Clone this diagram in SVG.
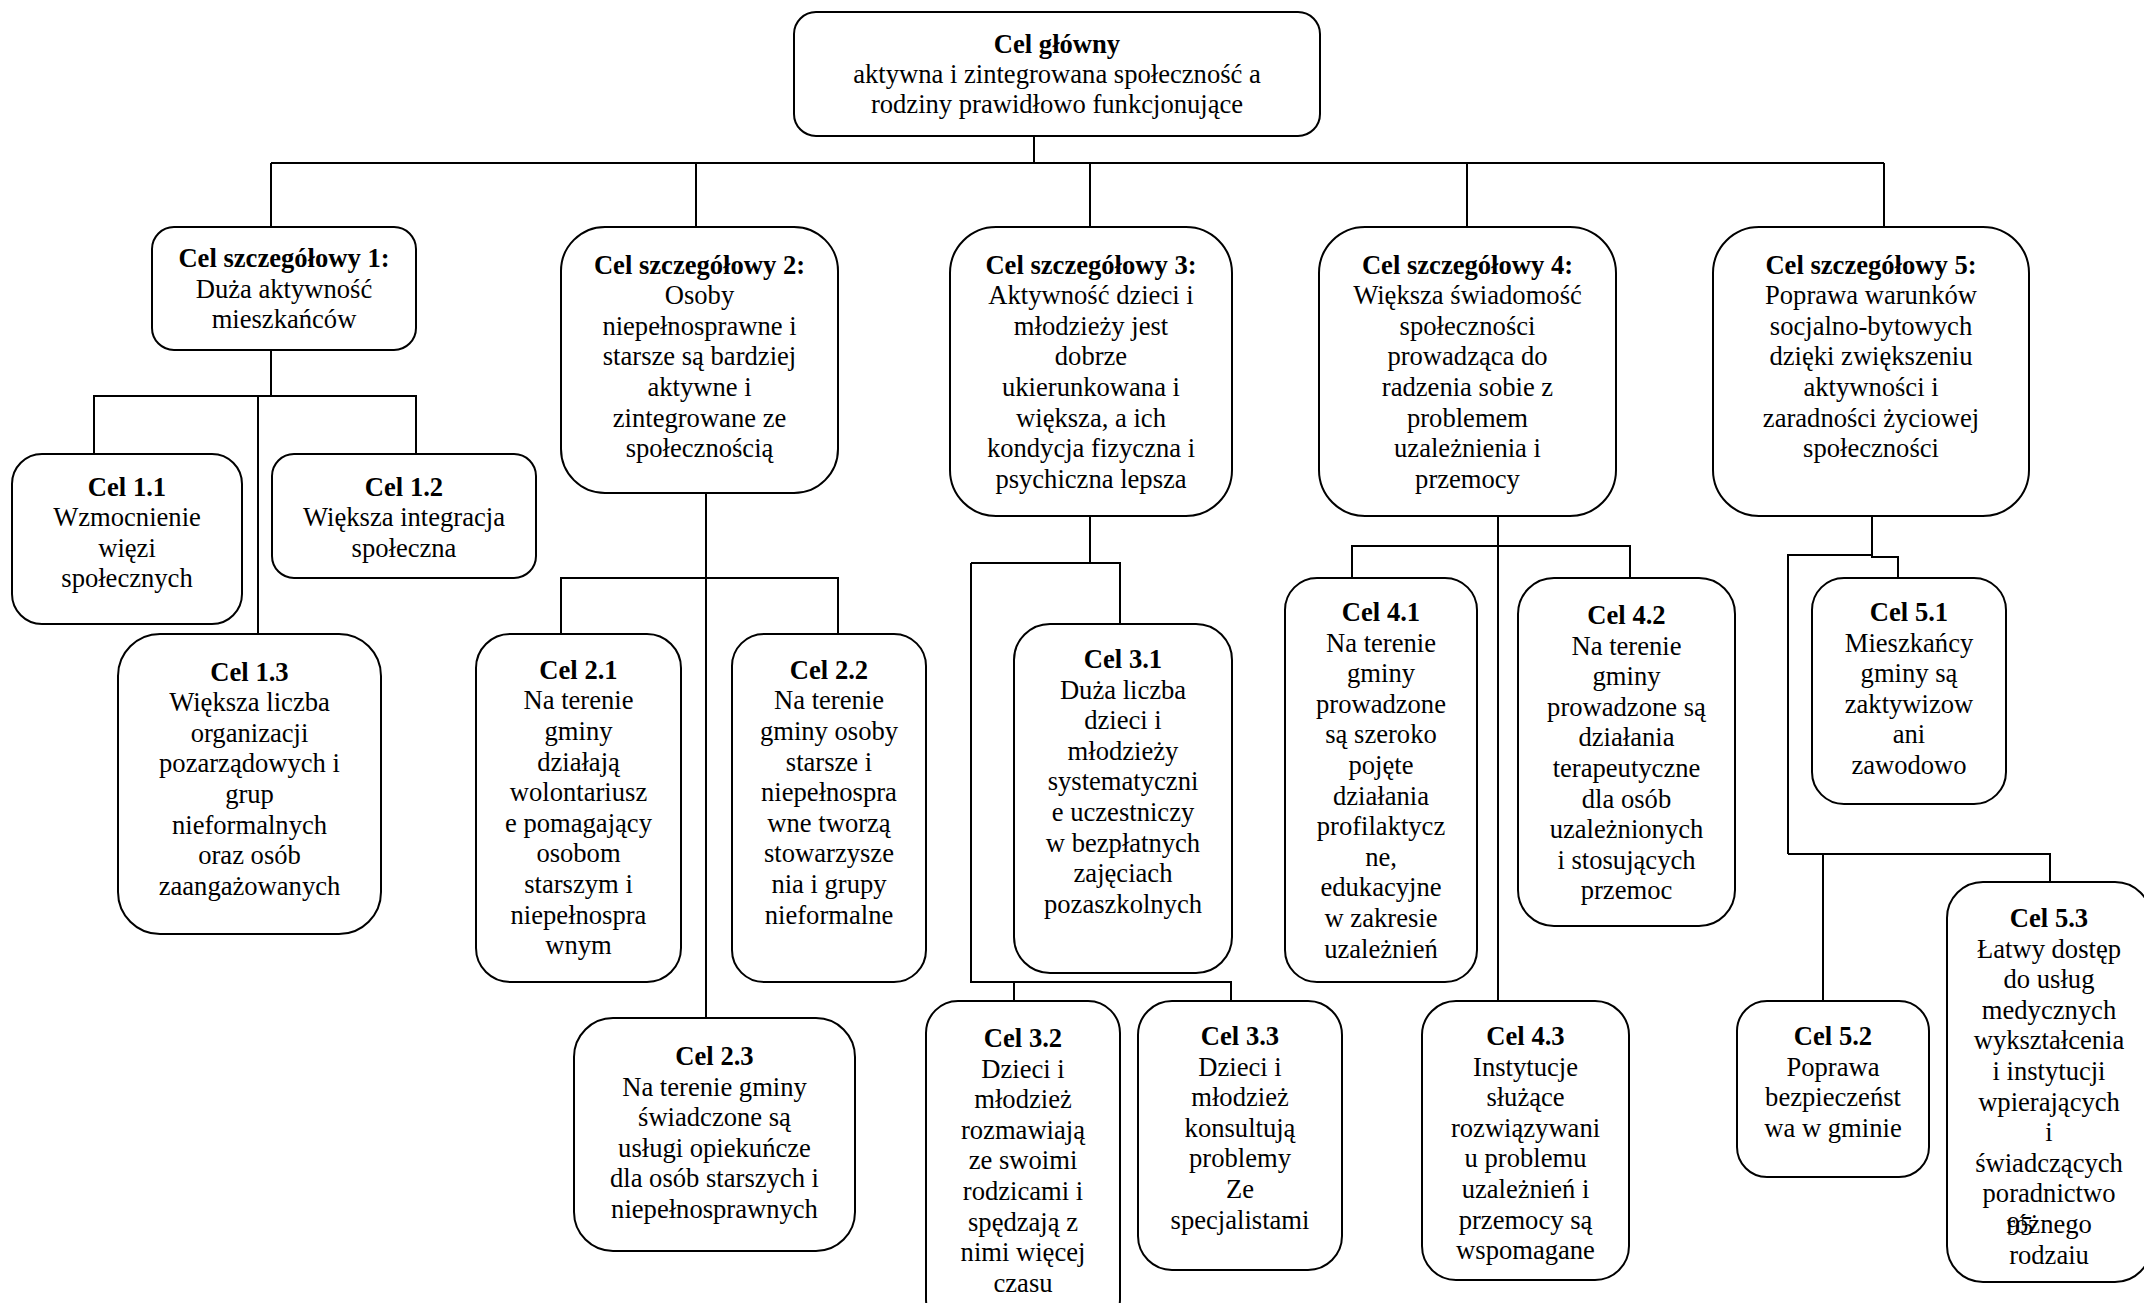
<svg xmlns="http://www.w3.org/2000/svg" width="2144" height="1303" viewBox="0 0 2144 1303">
<style>
.bg{fill:#ffffff}
.box{fill:#ffffff;stroke:#000000;stroke-width:2}
.ln{fill:none;stroke:#000000;stroke-width:2}
text{font-family:"Liberation Serif","Times New Roman",serif;font-size:26.6px;fill:#000000;text-anchor:middle}
.b{font-weight:bold}
</style>
<rect class="bg" x="0" y="0" width="2144" height="1303"/>
<g id="connectors">
<path class="ln" d="M1034,136 V163 M271,163 H1884 M271,163 V227 M696,163 V227 M1090,163 V227 M1467,163 V227 M1884,163 V227"/>
<path class="ln" d="M271,350 V396 M94,454 V396 H416 V454 M258,396 V634"/>
<path class="ln" d="M706,493 V1018 M561,634 V578 H838 V634"/>
<path class="ln" d="M1090,516 V563 M971,563 H1120 V624 M971,563 V982 H1231 V1001 M1014,982 V1001"/>
<path class="ln" d="M1498,516 V1001 M1352,578 V546 H1630 V578"/>
<path class="ln" d="M1872,516 V555 M1788,854 V555 H1872 V557 H1898 V578 M1788,854 H2050 V882 M1823,854 V1001"/>
</g>
<g id="main">
<rect class="box" x="794" y="12" width="526" height="124" rx="22"/>
<text x="1057" y="53"><tspan class="b">Cel główny</tspan><tspan x="1057" dy="30">aktywna i zintegrowana społeczność a</tspan><tspan x="1057" dy="30">rodziny prawidłowo funkcjonujące</tspan></text>
</g>
<g id="s1">
<rect class="box" x="152" y="227" width="264" height="123" rx="22"/>
<text x="284" y="267"><tspan class="b">Cel szczegółowy 1:</tspan><tspan x="284" dy="30.6">Duża aktywność</tspan><tspan x="284" dy="30.6">mieszkańców</tspan></text>
</g>
<g id="s2">
<rect class="box" x="561" y="227" width="277" height="266" rx="44"/>
<text x="699.5" y="273.6"><tspan class="b">Cel szczegółowy 2:</tspan><tspan x="699.5" dy="30.6">Osoby</tspan><tspan x="699.5" dy="30.6">niepełnosprawne i</tspan><tspan x="699.5" dy="30.6">starsze są bardziej</tspan><tspan x="699.5" dy="30.6">aktywne i</tspan><tspan x="699.5" dy="30.6">zintegrowane ze</tspan><tspan x="699.5" dy="30.6">społecznością</tspan></text>
</g>
<g id="s3">
<rect class="box" x="950" y="227" width="282" height="289" rx="46"/>
<text x="1091" y="273.6"><tspan class="b">Cel szczegółowy 3:</tspan><tspan x="1091" dy="30.6">Aktywność dzieci i</tspan><tspan x="1091" dy="30.6">młodzieży jest</tspan><tspan x="1091" dy="30.6">dobrze</tspan><tspan x="1091" dy="30.6">ukierunkowana i</tspan><tspan x="1091" dy="30.6">większa, a ich</tspan><tspan x="1091" dy="30.6">kondycja fizyczna i</tspan><tspan x="1091" dy="30.6">psychiczna lepsza</tspan></text>
</g>
<g id="s4">
<rect class="box" x="1319" y="227" width="297" height="289" rx="46"/>
<text x="1467.5" y="273.6"><tspan class="b">Cel szczegółowy 4:</tspan><tspan x="1467.5" dy="30.6">Większa świadomość</tspan><tspan x="1467.5" dy="30.6">społeczności</tspan><tspan x="1467.5" dy="30.6">prowadząca do</tspan><tspan x="1467.5" dy="30.6">radzenia sobie z</tspan><tspan x="1467.5" dy="30.6">problemem</tspan><tspan x="1467.5" dy="30.6">uzależnienia i</tspan><tspan x="1467.5" dy="30.6">przemocy</tspan></text>
</g>
<g id="s5">
<rect class="box" x="1713" y="227" width="316" height="289" rx="46"/>
<text x="1871" y="273.6"><tspan class="b">Cel szczegółowy 5:</tspan><tspan x="1871" dy="30.6">Poprawa warunków</tspan><tspan x="1871" dy="30.6">socjalno-bytowych</tspan><tspan x="1871" dy="30.6">dzięki zwiększeniu</tspan><tspan x="1871" dy="30.6">aktywności i</tspan><tspan x="1871" dy="30.6">zaradności życiowej</tspan><tspan x="1871" dy="30.6">społeczności</tspan></text>
</g>
<g id="c11">
<rect class="box" x="12" y="454" width="230" height="170" rx="30"/>
<text x="127" y="495.5"><tspan class="b">Cel 1.1</tspan><tspan x="127" dy="30.6">Wzmocnienie</tspan><tspan x="127" dy="30.6">więzi</tspan><tspan x="127" dy="30.6">społecznych</tspan></text>
</g>
<g id="c12">
<rect class="box" x="272" y="454" width="264" height="124" rx="22"/>
<text x="404" y="495.5"><tspan class="b">Cel 1.2</tspan><tspan x="404" dy="30.6">Większa integracja</tspan><tspan x="404" dy="30.6">społeczna</tspan></text>
</g>
<g id="c13">
<rect class="box" x="118" y="634" width="263" height="300" rx="42"/>
<text x="249.5" y="680.6"><tspan class="b">Cel 1.3</tspan><tspan x="249.5" dy="30.6">Większa liczba</tspan><tspan x="249.5" dy="30.6">organizacji</tspan><tspan x="249.5" dy="30.6">pozarządowych i</tspan><tspan x="249.5" dy="30.6">grup</tspan><tspan x="249.5" dy="30.6">nieformalnych</tspan><tspan x="249.5" dy="30.6">oraz osób</tspan><tspan x="249.5" dy="30.6">zaangażowanych</tspan></text>
</g>
<g id="c21">
<rect class="box" x="476" y="634" width="205" height="348" rx="34"/>
<text x="578.5" y="678.7"><tspan class="b">Cel 2.1</tspan><tspan x="578.5" dy="30.6">Na terenie</tspan><tspan x="578.5" dy="30.6">gminy</tspan><tspan x="578.5" dy="30.6">działają</tspan><tspan x="578.5" dy="30.6">wolontariusz</tspan><tspan x="578.5" dy="30.6">e pomagający</tspan><tspan x="578.5" dy="30.6">osobom</tspan><tspan x="578.5" dy="30.6">starszym i</tspan><tspan x="578.5" dy="30.6">niepełnospra</tspan><tspan x="578.5" dy="30.6">wnym</tspan></text>
</g>
<g id="c22">
<rect class="box" x="732" y="634" width="194" height="348" rx="32"/>
<text x="829" y="678.7"><tspan class="b">Cel 2.2</tspan><tspan x="829" dy="30.6">Na terenie</tspan><tspan x="829" dy="30.6">gminy osoby</tspan><tspan x="829" dy="30.6">starsze i</tspan><tspan x="829" dy="30.6">niepełnospra</tspan><tspan x="829" dy="30.6">wne tworzą</tspan><tspan x="829" dy="30.6">stowarzysze</tspan><tspan x="829" dy="30.6">nia i grupy</tspan><tspan x="829" dy="30.6">nieformalne</tspan></text>
</g>
<g id="c23">
<rect class="box" x="574" y="1018" width="281" height="233" rx="39"/>
<text x="714.5" y="1065"><tspan class="b">Cel 2.3</tspan><tspan x="714.5" dy="30.6">Na terenie gminy</tspan><tspan x="714.5" dy="30.6">świadczone są</tspan><tspan x="714.5" dy="30.6">usługi opiekuńcze</tspan><tspan x="714.5" dy="30.6">dla osób starszych i</tspan><tspan x="714.5" dy="30.6">niepełnosprawnych</tspan></text>
</g>
<g id="c31">
<rect class="box" x="1014" y="624" width="218" height="349" rx="36"/>
<text x="1123" y="668"><tspan class="b">Cel 3.1</tspan><tspan x="1123" dy="30.6">Duża liczba</tspan><tspan x="1123" dy="30.6">dzieci i</tspan><tspan x="1123" dy="30.6">młodzieży</tspan><tspan x="1123" dy="30.6">systematyczni</tspan><tspan x="1123" dy="30.6">e uczestniczy</tspan><tspan x="1123" dy="30.6">w bezpłatnych</tspan><tspan x="1123" dy="30.6">zajęciach</tspan><tspan x="1123" dy="30.6">pozaszkolnych</tspan></text>
</g>
<g id="c32">
<rect class="box" x="926" y="1001" width="194" height="330" rx="32"/>
<text x="1023" y="1047"><tspan class="b">Cel 3.2</tspan><tspan x="1023" dy="30.6">Dzieci i</tspan><tspan x="1023" dy="30.6">młodzież</tspan><tspan x="1023" dy="30.6">rozmawiają</tspan><tspan x="1023" dy="30.6">ze swoimi</tspan><tspan x="1023" dy="30.6">rodzicami i</tspan><tspan x="1023" dy="30.6">spędzają z</tspan><tspan x="1023" dy="30.6">nimi więcej</tspan><tspan x="1023" dy="30.6">czasu</tspan></text>
</g>
<g id="c33">
<rect class="box" x="1138" y="1001" width="204" height="269" rx="34"/>
<text x="1240" y="1045"><tspan class="b">Cel 3.3</tspan><tspan x="1240" dy="30.6">Dzieci i</tspan><tspan x="1240" dy="30.6">młodzież</tspan><tspan x="1240" dy="30.6">konsultują</tspan><tspan x="1240" dy="30.6">problemy</tspan><tspan x="1240" dy="30.6">Ze</tspan><tspan x="1240" dy="30.6">specjalistami</tspan></text>
</g>
<g id="c41">
<rect class="box" x="1285" y="578" width="192" height="404" rx="32"/>
<text x="1381" y="621"><tspan class="b">Cel 4.1</tspan><tspan x="1381" dy="30.6">Na terenie</tspan><tspan x="1381" dy="30.6">gminy</tspan><tspan x="1381" dy="30.6">prowadzone</tspan><tspan x="1381" dy="30.6">są szeroko</tspan><tspan x="1381" dy="30.6">pojęte</tspan><tspan x="1381" dy="30.6">działania</tspan><tspan x="1381" dy="30.6">profilaktycz</tspan><tspan x="1381" dy="30.6">ne,</tspan><tspan x="1381" dy="30.6">edukacyjne</tspan><tspan x="1381" dy="30.6">w zakresie</tspan><tspan x="1381" dy="30.6">uzależnień</tspan></text>
</g>
<g id="c42">
<rect class="box" x="1518" y="578" width="217" height="348" rx="36"/>
<text x="1626.5" y="624"><tspan class="b">Cel 4.2</tspan><tspan x="1626.5" dy="30.6">Na terenie</tspan><tspan x="1626.5" dy="30.6">gminy</tspan><tspan x="1626.5" dy="30.6">prowadzone są</tspan><tspan x="1626.5" dy="30.6">działania</tspan><tspan x="1626.5" dy="30.6">terapeutyczne</tspan><tspan x="1626.5" dy="30.6">dla osób</tspan><tspan x="1626.5" dy="30.6">uzależnionych</tspan><tspan x="1626.5" dy="30.6">i stosujących</tspan><tspan x="1626.5" dy="30.6">przemoc</tspan></text>
</g>
<g id="c43">
<rect class="box" x="1422" y="1001" width="207" height="279" rx="34"/>
<text x="1525.5" y="1045"><tspan class="b">Cel 4.3</tspan><tspan x="1525.5" dy="30.6">Instytucje</tspan><tspan x="1525.5" dy="30.6">służące</tspan><tspan x="1525.5" dy="30.6">rozwiązywani</tspan><tspan x="1525.5" dy="30.6">u problemu</tspan><tspan x="1525.5" dy="30.6">uzależnień i</tspan><tspan x="1525.5" dy="30.6">przemocy są</tspan><tspan x="1525.5" dy="30.6">wspomagane</tspan></text>
</g>
<g id="c51">
<rect class="box" x="1812" y="578" width="194" height="226" rx="32"/>
<text x="1909" y="621"><tspan class="b">Cel 5.1</tspan><tspan x="1909" dy="30.6">Mieszkańcy</tspan><tspan x="1909" dy="30.6">gminy są</tspan><tspan x="1909" dy="30.6">zaktywizow</tspan><tspan x="1909" dy="30.6">ani</tspan><tspan x="1909" dy="30.6">zawodowo</tspan></text>
</g>
<g id="c52">
<rect class="box" x="1737" y="1001" width="192" height="176" rx="30"/>
<text x="1833" y="1045"><tspan class="b">Cel 5.2</tspan><tspan x="1833" dy="30.6">Poprawa</tspan><tspan x="1833" dy="30.6">bezpieczeńst</tspan><tspan x="1833" dy="30.6">wa w gminie</tspan></text>
</g>
<g id="c53">
<rect class="box" x="1947" y="882" width="204" height="400" rx="36"/>
<text x="2049" y="927"><tspan class="b">Cel 5.3</tspan><tspan x="2049" dy="30.6">Łatwy dostęp</tspan><tspan x="2049" dy="30.6">do usług</tspan><tspan x="2049" dy="30.6">medycznych</tspan><tspan x="2049" dy="30.6">wykształcenia</tspan><tspan x="2049" dy="30.6">i instytucji</tspan><tspan x="2049" dy="30.6">wpierających</tspan><tspan x="2049" dy="30.6">i</tspan><tspan x="2049" dy="30.6">świadczących</tspan><tspan x="2049" dy="30.6">poradnictwo</tspan><tspan x="2049" dy="30.6">różnego</tspan><tspan x="2049" dy="30.6">rodzaiu</tspan></text>
</g>
<g id="page-number">
<text x="2020" y="1235">95</text>
</g>
</svg>
